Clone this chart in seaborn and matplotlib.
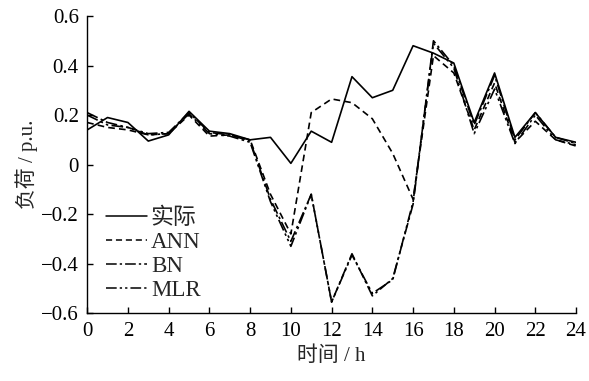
import numpy as np
import pandas as pd
import matplotlib
matplotlib.use("Agg")
import matplotlib.pyplot as plt
import seaborn as sns

hours = list(range(25))
actual = [0.14, 0.19, 0.17, 0.095, 0.12, 0.215, 0.135, 0.125, 0.10, 0.11, 0.005, 0.135, 0.09,
          0.355, 0.27, 0.30, 0.48, 0.45, 0.41, 0.17, 0.37, 0.11, 0.21, 0.11, 0.09]
ann = [0.17, 0.15, 0.14, 0.12, 0.125, 0.20, 0.115, 0.12, 0.10, -0.12, -0.28, 0.21, 0.265,
       0.25, 0.185, 0.045, -0.14, 0.44, 0.37, 0.14, 0.33, 0.09, 0.175, 0.10, 0.075]
bn = [0.21, 0.17, 0.15, 0.125, 0.13, 0.21, 0.13, 0.12, 0.095, -0.14, -0.31, -0.12, -0.555,
      -0.36, -0.53, -0.46, -0.16, 0.50, 0.40, 0.16, 0.36, 0.10, 0.21, 0.11, 0.085]
mlr = [0.20, 0.16, 0.15, 0.12, 0.125, 0.205, 0.125, 0.115, 0.09, -0.15, -0.33, -0.12, -0.555,
       -0.365, -0.52, -0.465, -0.15, 0.49, 0.39, 0.125, 0.305, 0.085, 0.20, 0.10, 0.08]
series_names = ["实际", "ANN", "BN", "MLR"]
xticks = list(range(0, 25, 2))
yticks = [-0.6, -0.4, -0.2, 0, 0.2, 0.4, 0.6]
ytick_labels = ["\u22120.6", "\u22120.4", "\u22120.2", "0", "0.2", "0.4", "0.6"]

sns.set_style("ticks")
plt.rcParams["font.family"] = ["Liberation Serif", "Noto Sans CJK SC", "DejaVu Sans"]
plt.rcParams["axes.unicode_minus"] = True

frames = []
for name, vals in zip(series_names, [actual, ann, bn, mlr]):
    frames.append(pd.DataFrame({"h": hours, "v": vals, "s": name}))
df = pd.concat(frames, ignore_index=True)

fig = plt.figure(figsize=(5.89, 3.81), dpi=100)
ax = fig.add_axes([0.148, 0.178, 0.830, 0.780])

dashes = {"实际": "", "ANN": (4, 2.5), "BN": (7, 2, 1.5, 2), "MLR": (7, 2, 1.5, 2, 1.5, 2)}
palette = {n: "black" for n in series_names}
sns.lineplot(data=df, x="h", y="v", hue="s", style="s", hue_order=series_names,
             style_order=series_names, palette=palette, dashes=dashes, linewidth=1.2, ax=ax)

ax.set_xlim(0, 24)
ax.set_ylim(-0.6, 0.6)
ax.set_xticks(xticks)
ax.set_xticklabels([str(t) for t in xticks])
ax.set_yticks(yticks)
ax.set_yticklabels(ytick_labels)
ax.tick_params(direction="in", length=4, width=1, labelsize=15, colors="black", pad=6)
for s in ["top", "right"]:
    ax.spines[s].set_visible(False)
for s in ["left", "bottom"]:
    ax.spines[s].set_color("black")
    ax.spines[s].set_linewidth(1.0)

ax.set_xlabel("时间 / h", fontsize=15, labelpad=4)
ax.set_ylabel("负荷 / p.u.", fontsize=15, labelpad=2)

leg = ax.legend(loc="upper left", bbox_to_anchor=(0.02, 0.385), frameon=False,
                handlelength=1.8, handletextpad=0.15, labelspacing=0.12, fontsize=16.5,
                borderaxespad=0)
for line in leg.get_lines():
    line.set_linewidth(1.1)

fig.savefig("out.png", dpi=100)
